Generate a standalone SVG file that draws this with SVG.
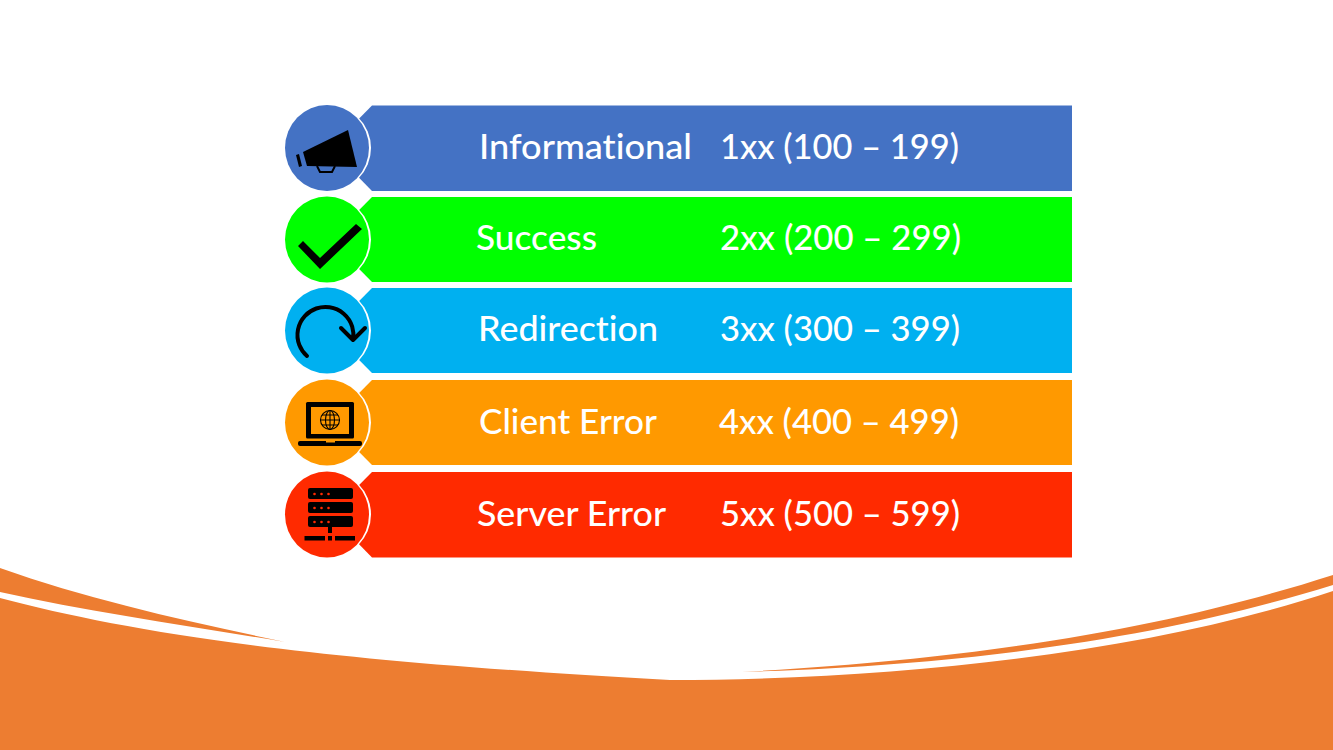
<svg xmlns="http://www.w3.org/2000/svg" width="1333" height="750" viewBox="0 0 1333 750">
<style>
.t{font-family:"Lato","Open Sans",sans-serif;font-size:35px;font-weight:500;fill:#fff;font-variant-ligatures:none}
.r{fill:#fff}
.k{fill:#000}
.s{fill:none;stroke:#000}
</style>
<rect width="1333" height="750" fill="#fff"/>
<g id="background">
<path d="M0 598C130 632 300 660 670 680C900 680 1150 652 1333 591V750H0Z" fill="#ed7d31"/>
<path d="M0 568C90 600 190 622 285 642C190 626 90 612 0 592Z" fill="#ed7d31"/>
<path d="M742 672C1000 658 1180 624 1333 575V585C1180 632 1000 664 742 672Z" fill="#ed7d31"/>
</g>
<g id="row-informational">
<polygon points="372,105.500 1072,105.500 1072,191 372,191 330,148" fill="#4472c4"/>
<circle class="r" cx="328" cy="148" r="43"/>
<ellipse cx="327" cy="148" rx="42" ry="43" fill="#4472c4"/>
<polygon class="k" points="303,152 348,130 357,167 307,166"/>
<polygon class="k" points="296,155 299,154 302,166 299,167"/>
<path class="s" stroke-width="2" d="M317 166L320 172H332L335 166"/>
<text class="t" x="479" y="159" textLength="213" lengthAdjust="spacingAndGlyphs">Informational</text>
<text class="t" x="720" y="159" textLength="239" lengthAdjust="spacingAndGlyphs">1xx (100 – 199)</text>
</g>
<g id="row-success">
<polygon points="372,197 1072,197 1072,282 372,282 330,239.500" fill="#00ff00"/>
<circle class="r" cx="328" cy="239.500" r="43"/>
<ellipse cx="327" cy="239.500" rx="42" ry="43" fill="#00ff00"/>
<polygon class="k" points="298,246 303,241 320,258 356,224 362,229 320,269"/>
<text class="t" x="476" y="250" textLength="121" lengthAdjust="spacingAndGlyphs">Success</text>
<text class="t" x="720" y="250" textLength="241" lengthAdjust="spacingAndGlyphs">2xx (200 – 299)</text>
</g>
<g id="row-redirection">
<polygon points="372,288 1072,288 1072,373 372,373 330,330.500" fill="#00b0f0"/>
<circle class="r" cx="328" cy="330.500" r="43"/>
<ellipse cx="327" cy="330.500" rx="42" ry="43" fill="#00b0f0"/>
<path class="s" stroke-width="4" stroke-linecap="round" stroke-linejoin="round" d="M307 356A28 28 0 1 1 353 340M341 328L353 340L365 328"/>
<text class="t" x="478" y="341" textLength="180" lengthAdjust="spacingAndGlyphs">Redirection</text>
<text class="t" x="720" y="341" textLength="240" lengthAdjust="spacingAndGlyphs">3xx (300 – 399)</text>
</g>
<g id="row-client-error">
<polygon points="372,380 1072,380 1072,465 372,465 330,422.500" fill="#ff9900"/>
<circle class="r" cx="328" cy="422.500" r="43"/>
<ellipse cx="327" cy="422.500" rx="42" ry="43" fill="#ff9900"/>
<rect class="k" x="306" y="402" width="48" height="36.500" rx="1.500"/>
<rect x="311" y="407" width="38" height="27" fill="#ff9900"/>
<rect class="k" x="298" y="441" width="64" height="5" rx="2"/>
<rect x="326" y="441" width="9" height="1.500" fill="#ff9900"/>
<g class="s" stroke-width="1.100">
<circle cx="330" cy="420" r="9.500"/>
<ellipse cx="330" cy="420" rx="4.500" ry="9.500"/>
<path d="M330 410.500V429.500M320.500 420H339.500M322 415H338M322 425H338"/>
</g>
<text class="t" x="479" y="434" textLength="178" lengthAdjust="spacingAndGlyphs">Client Error</text>
<text class="t" x="719" y="434" textLength="240" lengthAdjust="spacingAndGlyphs">4xx (400 – 499)</text>
</g>
<g id="row-server-error">
<polygon points="372,472 1072,472 1072,557.500 372,557.500 330,514.500" fill="#ff2a00"/>
<circle class="r" cx="328" cy="514.500" r="43"/>
<ellipse cx="327" cy="514.500" rx="42" ry="43" fill="#ff2a00"/>
<rect class="k" x="308" y="488" width="45" height="11" rx="2"/>
<rect class="k" x="308" y="502" width="45" height="11" rx="2"/>
<rect class="k" x="308" y="516" width="45" height="11" rx="2"/>
<g fill="#ff2a00">
<circle cx="314.500" cy="494" r="1.300"/><circle cx="321.500" cy="494" r="1.300"/><circle cx="328.500" cy="494" r="1.300"/>
<circle cx="314.500" cy="508" r="1.300"/><circle cx="321.500" cy="508" r="1.300"/><circle cx="328.500" cy="508" r="1.300"/>
<circle cx="314.500" cy="522" r="1.300"/><circle cx="321.500" cy="522" r="1.300"/><circle cx="328.500" cy="522" r="1.300"/>
</g>
<rect class="k" x="328" y="527" width="4" height="6"/>
<rect class="k" x="304.500" y="536" width="20.500" height="4.500"/>
<rect class="k" x="328" y="536" width="4" height="4.500"/>
<rect class="k" x="335" y="536" width="20" height="4.500"/>
<text class="t" x="477" y="526" textLength="189" lengthAdjust="spacingAndGlyphs">Server Error</text>
<text class="t" x="720" y="526" textLength="240" lengthAdjust="spacingAndGlyphs">5xx (500 – 599)</text>
</g>
</svg>
